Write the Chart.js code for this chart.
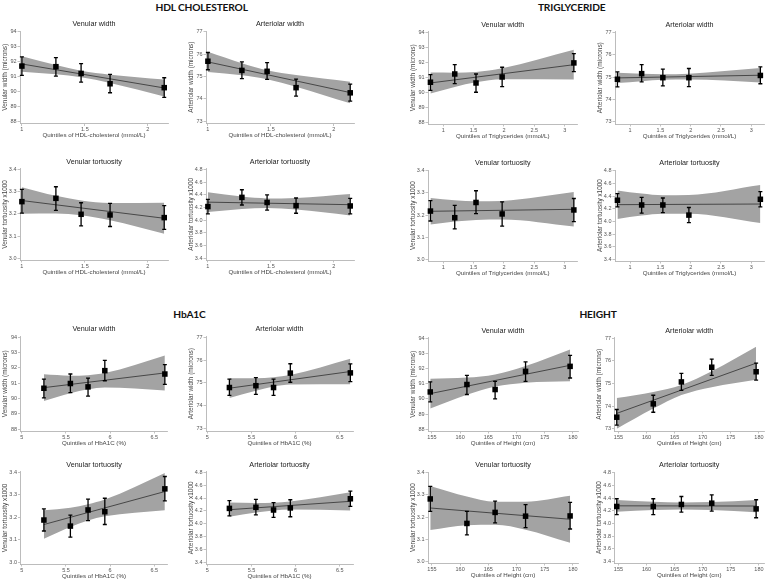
<!DOCTYPE html>
<html><head><meta charset="utf-8">
<script src="https://cdn.jsdelivr.net/npm/chart.js@4.4.0/dist/chart.umd.min.js"></script>
<style>
html,body{margin:0;padding:0;background:#fff;}
#wrap{position:relative;width:765px;height:580px;overflow:hidden;background:#fff;}
.sec{position:absolute;font-family:Lato,"Open Sans",sans-serif;font-weight:700;font-size:10.2px;letter-spacing:-0.15px;color:#111;transform:translate(-50%,-50%);white-space:nowrap;line-height:1;}
canvas{position:absolute;}
</style></head><body><div id="wrap"></div>
<script>
// ---------- tick values / labels ----------
const vwTicks = [88, 89, 90, 91, 92, 93, 94];
const awTicks = [73, 74, 75, 76, 77];
const vtTicks = [3.0, 3.1, 3.2, 3.3, 3.4];
const vtTickLabels = ['3.0', '3.1', '3.2', '3.3', '3.4'];
const atTicks = [3.4, 3.6, 3.8, 4.0, 4.2, 4.4, 4.6, 4.8];
const atTickLabels = ['3.4', '3.6', '3.8', '4.0', '4.2', '4.4', '4.6', '4.8'];
const hdlTicks = [1, 1.5, 2];
const trigTicks = [1, 1.5, 2, 2.5, 3];
const hbaTicks = [5, 5.5, 6, 6.5];
const heightTicks = [155, 160, 165, 170, 175, 180];

// ---------- HDL cholesterol ----------
const hdlX = [1.0, 1.27, 1.47, 1.70, 2.13];
const hdlVwMean = [91.71, 91.67, 91.22, 90.53, 90.27];
const hdlVwErrLo = [91.09, 91.04, 90.64, 89.93, 89.62];
const hdlVwErrHi = [92.33, 92.27, 91.87, 91.16, 90.93];
const hdlVwFit = [91.85, 90.25];
const hdlVwCiHi = [92.37, 91.78, 91.40, 91.14, 90.82];
const hdlVwCiLo = [91.33, 91.16, 90.96, 90.58, 89.68];

const hdlAwMean = [75.68, 75.27, 75.23, 74.50, 74.27];
const hdlAwErrLo = [75.30, 74.90, 74.87, 74.12, 73.90];
const hdlAwErrHi = [76.07, 75.65, 75.62, 74.88, 74.66];
const hdlAwFit = [75.65, 74.28];
const hdlAwCiHi = [76.10, 75.59, 75.28, 75.06, 74.76];
const hdlAwCiLo = [75.20, 75.05, 74.88, 74.54, 73.80];

const hdlVtMean = [3.255, 3.270, 3.198, 3.195, 3.183];
const hdlVtErrLo = [3.203, 3.216, 3.146, 3.143, 3.130];
const hdlVtErrHi = [3.310, 3.322, 3.250, 3.247, 3.237];
const hdlVtFit = [3.260, 3.180];
const hdlVtCiHi = [3.320, 3.281, 3.260, 3.249, 3.250];
const hdlVtCiLo = [3.200, 3.201, 3.194, 3.171, 3.110];

const hdlAtMean = [4.215, 4.360, 4.280, 4.230, 4.225];
const hdlAtErrLo = [4.100, 4.240, 4.160, 4.110, 4.100];
const hdlAtErrHi = [4.330, 4.480, 4.400, 4.350, 4.345];
const hdlAtFit = [4.285, 4.245];
const hdlAtCiHi = [4.440, 4.372, 4.344, 4.352, 4.415];
const hdlAtCiLo = [4.130, 4.178, 4.192, 4.168, 4.075];

// ---------- Triglyceride ----------
const trigX = [0.79, 1.19, 1.54, 1.97, 3.15];
const trigVwMean = [90.67, 91.22, 90.62, 91.02, 91.96];
const trigVwErrLo = [90.13, 90.58, 90.00, 90.38, 91.38];
const trigVwErrHi = [91.18, 91.84, 91.22, 91.67, 92.58];
const trigVwFit = [90.62, 91.84];
const trigVwCiHi = [91.32, 91.31, 91.36, 91.60, 92.83];
const trigVwCiLo = [89.92, 90.35, 90.66, 90.86, 90.85];

const trigAwMean = [74.90, 75.15, 74.97, 74.97, 75.07];
const trigAwErrLo = [74.56, 74.78, 74.60, 74.57, 74.70];
const trigAwErrHi = [75.23, 75.55, 75.35, 75.38, 75.45];
const trigAwFit = [74.96, 75.08];
const trigAwCiHi = [75.19, 75.145, 75.126, 75.15, 75.40];
const trigAwCiLo = [74.73, 74.815, 74.874, 74.89, 74.76];

const trigVtMean = [3.218, 3.188, 3.257, 3.205, 3.223];
const trigVtErrLo = [3.173, 3.137, 3.206, 3.150, 3.170];
const trigVtErrHi = [3.265, 3.244, 3.310, 3.260, 3.275];
const trigVtFit = [3.217, 3.226];
const trigVtCiHi = [3.277, 3.267, 3.262, 3.264, 3.304];
const trigVtCiLo = [3.157, 3.171, 3.178, 3.180, 3.148];

const trigAtMean = [4.335, 4.260, 4.260, 4.100, 4.350];
const trigAtErrLo = [4.230, 4.130, 4.140, 3.980, 4.230];
const trigAtErrHi = [4.440, 4.380, 4.370, 4.220, 4.470];
const trigAtFit = [4.265, 4.275];
const trigAtCiHi = [4.490, 4.440, 4.413, 4.417, 4.575];
const trigAtCiLo = [4.040, 4.094, 4.123, 4.123, 3.975];

// ---------- HbA1C ----------
const hbaX = [5.25, 5.55, 5.75, 5.94, 6.62];
const hbaVwMean = [90.67, 90.98, 90.76, 91.82, 91.60];
const hbaVwErrLo = [90.04, 90.38, 90.16, 91.16, 90.93];
const hbaVwErrHi = [91.27, 91.60, 91.33, 92.49, 92.22];
const hbaVwFit = [90.71, 91.67];
const hbaVwCiHi = [91.58, 91.49, 91.52, 91.66, 92.81];
const hbaVwCiLo = [89.84, 90.35, 90.60, 90.72, 90.53];

const hbaAwMean = [74.80, 74.88, 74.80, 75.43, 75.44];
const hbaAwErrLo = [74.46, 74.50, 74.46, 75.03, 75.06];
const hbaAwErrHi = [75.17, 75.23, 75.17, 75.84, 75.83];
const hbaAwFit = [74.77, 75.50];
const hbaAwCiHi = [75.20, 75.20, 75.25, 75.35, 76.06];
const hbaAwCiLo = [74.34, 74.66, 74.84, 74.93, 74.94];

const hbaVtMean = [3.188, 3.161, 3.233, 3.225, 3.327];
const hbaVtErrLo = [3.139, 3.112, 3.185, 3.168, 3.273];
const hbaVtErrHi = [3.238, 3.210, 3.281, 3.285, 3.382];
const hbaVtFit = [3.168, 3.315];
const hbaVtCiHi = [3.232, 3.243, 3.258, 3.279, 3.398];
const hbaVtCiLo = [3.104, 3.157, 3.186, 3.205, 3.232];

const hbaAtMean = [4.240, 4.257, 4.215, 4.247, 4.390];
const hbaAtErrLo = [4.125, 4.140, 4.100, 4.110, 4.270];
const hbaAtErrHi = [4.360, 4.380, 4.330, 4.375, 4.510];
const hbaAtFit = [4.220, 4.350];
const hbaAtCiHi = [4.331, 4.323, 4.329, 4.349, 4.492];
const hbaAtCiLo = [4.111, 4.175, 4.207, 4.223, 4.208];

// ---------- Height ----------
const htX = [154.7, 161.2, 166.2, 171.6, 179.5];
const htVwMean = [90.46, 90.95, 90.62, 91.82, 92.15];
const htVwErrLo = [89.80, 90.29, 90.00, 91.16, 91.38];
const htVwErrHi = [91.12, 91.56, 91.16, 92.44, 92.88];
const htVwFit = [90.35, 92.22];
const htVwCiHi = [91.33, 91.41, 91.62, 92.17, 93.27];
const htVwCiLo = [89.37, 90.27, 90.82, 91.07, 91.17];

const htAwMean = [73.51, 74.10, 75.07, 75.72, 75.52];
const htAwErrLo = [73.16, 73.73, 74.70, 75.36, 75.15];
const htAwErrHi = [73.85, 74.48, 75.45, 76.08, 75.90];
const htAwFit = [73.68, 75.90];
const htAwCiHi = [74.36, 74.63, 74.93, 75.54, 76.63];
const htAwCiLo = [73.00, 73.89, 74.49, 74.84, 75.17];

const htVtMean = [3.282, 3.171, 3.221, 3.204, 3.205];
const htVtErrLo = [3.226, 3.119, 3.174, 3.152, 3.146];
const htVtErrHi = [3.339, 3.226, 3.272, 3.256, 3.266];
const htVtFit = [3.241, 3.190];
const htVtCiHi = [3.341, 3.293, 3.269, 3.269, 3.296];
const htVtCiLo = [3.141, 3.163, 3.165, 3.143, 3.084];

const htAtMean = [4.268, 4.268, 4.300, 4.320, 4.230];
const htAtErrLo = [4.140, 4.140, 4.178, 4.194, 4.090];
const htAtErrHi = [4.390, 4.390, 4.426, 4.450, 4.374];
const htAtFit = [4.278, 4.275];
const htAtCiHi = [4.370, 4.341, 4.332, 4.339, 4.372];
const htAtCiLo = [4.186, 4.213, 4.222, 4.213, 4.178];

// ---------- texts ----------
const panelTitles = ['Venular width', 'Arteriolar width', 'Venular tortuosity', 'Arteriolar tortuosity'];
const yTitles = ['Venular width (microns)', 'Arteriolar width (microns)', 'Venular tortuosity x1000', 'Arteriolar tortuosity x1000'];

// ---------- layout (not data) ----------
const FONT = '"Liberation Sans", Arial, sans-serif';
const yKinds = [
  {ticks: vwTicks, labels: vwTicks.map(String), range: [87.88, 94.05]},
  {ticks: awTicks, labels: awTicks.map(String), range: [72.9, 77.03]},
  {ticks: vtTicks, labels: vtTickLabels, range: [2.992, 3.403]},
  {ticks: atTicks, labels: atTickLabels, range: [3.374, 4.81]}
];
const rowsL = [[31, 123.5], [168.8, 260], [336.5, 431], [471.8, 564]];
const rowsR = [[31.6, 124], [170.2, 261], [337.6, 431], [472.2, 563]];

const groups = [
  {name: 'HDL CHOLESTEROL', hx: 201.7, hy: 6.5, x: hdlX, xTicks: hdlTicks, xRange: [0.985, 2.16],
   xTitle: 'Quintiles of HDL-cholesterol (mmol/L)', cols: [[20, 168], [206, 354]], rows: [rowsL[0], rowsL[1]],
   panels: [[hdlVwMean, hdlVwErrLo, hdlVwErrHi, hdlVwFit, hdlVwCiLo, hdlVwCiHi],
            [hdlAwMean, hdlAwErrLo, hdlAwErrHi, hdlAwFit, hdlAwCiLo, hdlAwCiHi],
            [hdlVtMean, hdlVtErrLo, hdlVtErrHi, hdlVtFit, hdlVtCiLo, hdlVtCiHi],
            [hdlAtMean, hdlAtErrLo, hdlAtErrHi, hdlAtFit, hdlAtCiLo, hdlAtCiHi]]},
  {name: 'TRIGLYCERIDE', hx: 571.7, hy: 6.5, x: trigX, xTicks: trigTicks, xRange: [0.75, 3.21],
   xTitle: 'Quintiles of Triglycerides (mmol/L)', cols: [[428, 577.5], [615, 764]], rows: [rowsR[0], rowsR[1]],
   panels: [[trigVwMean, trigVwErrLo, trigVwErrHi, trigVwFit, trigVwCiLo, trigVwCiHi],
            [trigAwMean, trigAwErrLo, trigAwErrHi, trigAwFit, trigAwCiLo, trigAwCiHi],
            [trigVtMean, trigVtErrLo, trigVtErrHi, trigVtFit, trigVtCiLo, trigVtCiHi],
            [trigAtMean, trigAtErrLo, trigAtErrHi, trigAtFit, trigAtCiLo, trigAtCiHi]]},
  {name: 'HbA1C', hx: 189.5, hy: 313.5, x: hbaX, xTicks: hbaTicks, xRange: [4.985, 6.65],
   xTitle: 'Quintiles of HbA1C (%)', cols: [[20.5, 167.5], [206, 353]], rows: [rowsL[2], rowsL[3]],
   panels: [[hbaVwMean, hbaVwErrLo, hbaVwErrHi, hbaVwFit, hbaVwCiLo, hbaVwCiHi],
            [hbaAwMean, hbaAwErrLo, hbaAwErrHi, hbaAwFit, hbaAwCiLo, hbaAwCiHi],
            [hbaVtMean, hbaVtErrLo, hbaVtErrHi, hbaVtFit, hbaVtCiLo, hbaVtCiHi],
            [hbaAtMean, hbaAtErrLo, hbaAtErrHi, hbaAtFit, hbaAtCiLo, hbaAtCiHi]]},
  {name: 'HEIGHT', hx: 598, hy: 313.5, x: htX, xTicks: heightTicks, xRange: [154.3, 180.9],
   xTitle: 'Quintiles of Height (cm)', cols: [[428, 578], [614.5, 764]], rows: [rowsR[2], rowsR[3]],
   panels: [[htVwMean, htVwErrLo, htVwErrHi, htVwFit, htVwCiLo, htVwCiHi],
            [htAwMean, htAwErrLo, htAwErrHi, htAwFit, htAwCiLo, htAwCiHi],
            [htVtMean, htVtErrLo, htVtErrHi, htVtFit, htVtCiLo, htVtCiHi],
            [htAtMean, htAtErrLo, htAtErrHi, htAtFit, htAtCiLo, htAtCiHi]]}
];

const wrap = document.getElementById('wrap');
const AXIS = '#b4b4b4';
const Y_W = 20, TITLE_SIZE = 7.2, TITLE_PB = 2.7, X_H = 16, PAD_R = 7;
const TITLE_H = TITLE_SIZE * 1.2 + TITLE_PB;

function errorBarPlugin(xs, lo, hi) {
  return {
    id: 'errorBars',
    afterDatasetsDraw(chart) {
      const sx = chart.scales.x, sy = chart.scales.y, ctx = chart.ctx;
      ctx.save();
      ctx.strokeStyle = '#000';
      ctx.lineWidth = 1.3;
      xs.forEach((xv, i) => {
        const px = sx.getPixelForValue(xv);
        const pl = sy.getPixelForValue(lo[i]), ph = sy.getPixelForValue(hi[i]);
        ctx.beginPath();
        ctx.moveTo(px, pl); ctx.lineTo(px, ph);
        ctx.moveTo(px - 2, pl); ctx.lineTo(px + 2, pl);
        ctx.moveTo(px - 2, ph); ctx.lineTo(px + 2, ph);
        ctx.stroke();
      });
      ctx.restore();
    }
  };
}

function makePanel(g, k, plotL, plotR, plotT, plotB) {
  const [mean, eLo, eHi, fit, ciLo, ciHi] = g.panels[k];
  const yk = yKinds[k];
  const xs = g.x;
  const left0 = plotL - Y_W, top0 = plotT - TITLE_H;
  const cLeft = Math.floor(left0) - 1, cTop = Math.floor(top0) - 1;
  const cW = Math.ceil(plotR + PAD_R) - cLeft;
  const cH = Math.ceil(plotB + X_H + 1) - cTop;
  const cv = document.createElement('canvas');
  cv.width = cW; cv.height = cH;
  cv.style.left = cLeft + 'px'; cv.style.top = cTop + 'px';
  cv.style.width = cW + 'px'; cv.style.height = cH + 'px';
  wrap.appendChild(cv);
  const pad = {left: left0 - cLeft, top: top0 - cTop, right: cLeft + cW - plotR, bottom: cTop + cH - plotB - X_H};

  new Chart(cv, {
    type: 'line',
    data: {
      datasets: [
        {order: 4, data: xs.map((v, i) => ({x: v, y: ciHi[i]})), borderWidth: 0, borderColor: 'rgba(0,0,0,0)', pointRadius: 0, fill: false, cubicInterpolationMode: 'monotone'},
        {order: 3, data: xs.map((v, i) => ({x: v, y: ciLo[i]})), borderWidth: 0, borderColor: 'rgba(0,0,0,0)', pointRadius: 0, fill: '-1', backgroundColor: '#a3a3a3', cubicInterpolationMode: 'monotone'},
        {order: 2, data: [{x: xs[0], y: fit[0]}, {x: xs[xs.length - 1], y: fit[1]}], borderColor: '#3c3c3c', borderWidth: 0.9, pointRadius: 0, fill: false},
        {order: 1, data: xs.map((v, i) => ({x: v, y: mean[i]})), showLine: false, pointStyle: 'rect', pointRadius: 3.9, pointBackgroundColor: '#000', pointBorderColor: '#000', pointBorderWidth: 0, clip: false}
      ]
    },
    options: {
      responsive: false, animation: false, events: [], devicePixelRatio: 1,
      layout: {padding: pad},
      plugins: {
        legend: {display: false}, tooltip: {enabled: false},
        filler: {drawTime: 'beforeDatasetsDraw'},
        title: {display: true, text: panelTitles[k], fullSize: false, color: '#222',
                font: {family: FONT, size: TITLE_SIZE, weight: 'normal', lineHeight: 1.2},
                padding: {top: 0, bottom: TITLE_PB}}
      },
      scales: {
        x: {
          type: 'linear', min: g.xRange[0], max: g.xRange[1],
          afterBuildTicks: s => { s.ticks = g.xTicks.map(v => ({value: v})); },
          afterFit: s => { s.height = X_H; s.paddingLeft = 0; s.paddingRight = 0; },
          grid: {display: true, drawOnChartArea: false, drawTicks: true, tickLength: 2.5, color: AXIS, lineWidth: 0.8},
          border: {display: true, color: AXIS, width: 0.9},
          ticks: {font: {family: FONT, size: 5.5}, color: '#555', padding: 0.5, maxRotation: 0, autoSkip: false,
                  callback: (v, i) => String(g.xTicks[i])},
          title: {display: true, text: g.xTitle, color: '#444', font: {family: FONT, size: 6.2, lineHeight: 1.2}, padding: {top: 0, bottom: 0}}
        },
        y: {
          type: 'linear', min: yk.range[0], max: yk.range[1],
          afterBuildTicks: s => { s.ticks = yk.ticks.map(v => ({value: v})); },
          afterFit: s => { s.width = Y_W; s.paddingTop = 0; s.paddingBottom = 0; },
          grid: {display: true, drawOnChartArea: false, drawTicks: true, tickLength: 2.5, color: AXIS, lineWidth: 0.8},
          border: {display: true, color: AXIS, width: 0.9},
          ticks: {font: {family: FONT, size: 5.5}, color: '#555', padding: 1, autoSkip: false,
                  callback: (v, i) => yk.labels[i]},
          title: {display: true, text: yTitles[k], color: '#444', font: {family: FONT, size: 6.4, lineHeight: 1.2}, padding: {top: 1.2, bottom: 0}}
        }
      }
    },
    plugins: [errorBarPlugin(xs, eLo, eHi)]
  });
}

groups.forEach(g => {
  const h = document.createElement('div');
  h.className = 'sec';
  h.textContent = g.name;
  h.style.left = g.hx + 'px';
  h.style.top = g.hy + 'px';
  wrap.appendChild(h);
  for (let k = 0; k < 4; k++) {
    const col = g.cols[k % 2], row = g.rows[Math.floor(k / 2)];
    makePanel(g, k, col[0], col[1], row[0], row[1]);
  }
});
</script>
</body></html>
